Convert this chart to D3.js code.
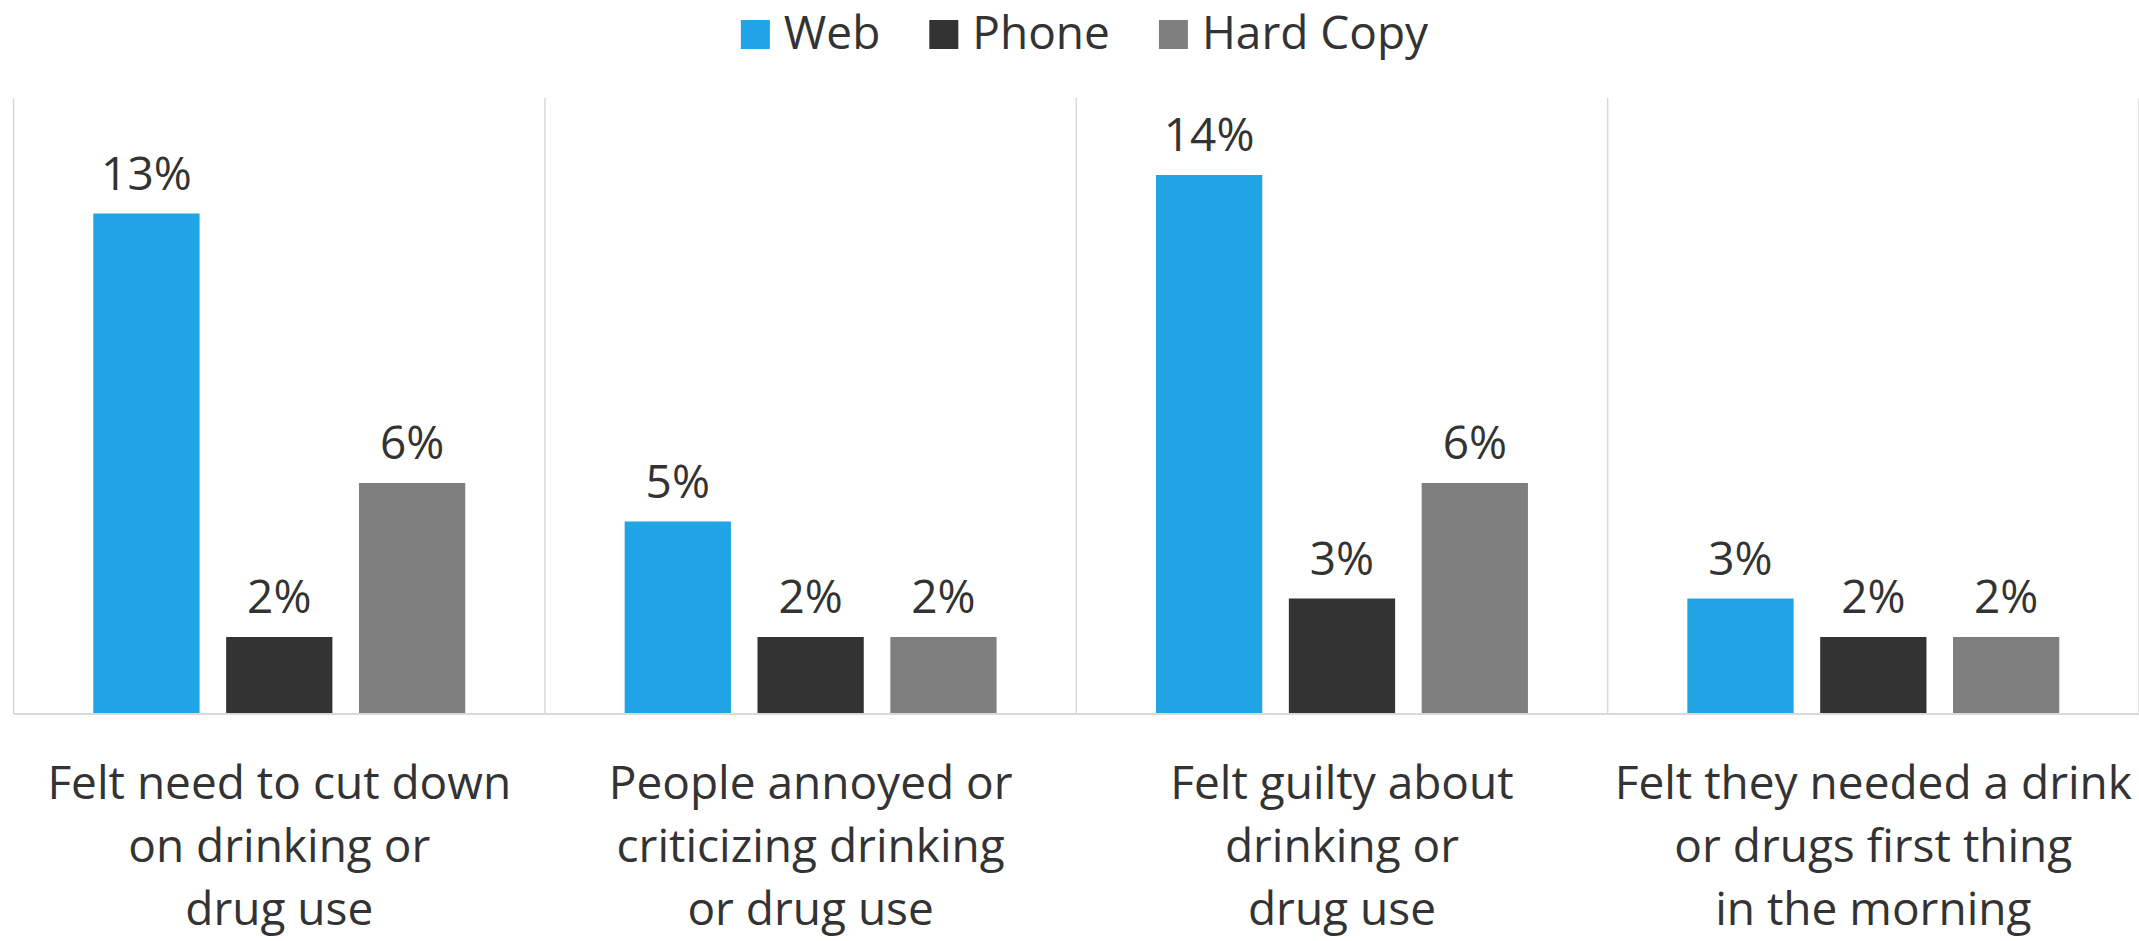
<!DOCTYPE html>
<html>
<head>
<meta charset="utf-8">
<script src="https://cdn.jsdelivr.net/npm/d3@7"></script>
<style>
  html, body { margin: 0; padding: 0; background: #fff; }
  svg { display: block; }
  text { font-family: "Open Sans", "Noto Sans", sans-serif; fill: #333333; }
</style>
</head>
<body>
<svg id="chart"></svg>
<script>
// Screening questions, one entry per category (label split into lines)
const categories = [
  "Felt need to cut down on drinking or drug use",
  "People annoyed or criticizing drinking or drug use",
  "Felt guilty about drinking or drug use",
  "Felt they needed a drink or drugs first thing in the morning"
];
const categoryLines = [
  ["Felt need to cut down", "on drinking or", "drug use"],
  ["People annoyed or", "criticizing drinking", "or drug use"],
  ["Felt guilty about", "drinking or", "drug use"],
  ["Felt they needed a drink", "or drugs first thing", "in the morning"]
];

// Survey mode series
const series = ["Web", "Phone", "Hard Copy"];
const webValues = [13, 5, 14, 3];
const phoneValues = [2, 2, 3, 2];
const hardCopyValues = [6, 2, 6, 2];
const seriesColors = ["#21A4E6", "#333333", "#7F7F7F"];

const valuesBySeries = [webValues, phoneValues, hardCopyValues];

const W = 2139, H = 941;
const svg = d3.select("#chart").attr("width", W).attr("height", H);

const plot = { left: 13.6, right: 2139, top: 98, bottom: 714 };
const fontSize = 46;

const x0 = d3.scaleBand().domain(categories).range([plot.left, plot.right]).padding(0);
const x1 = d3.scaleBand().domain(series).range([0, x0.bandwidth()])
  .paddingInner(0.2).paddingOuter(0.6);
const y = d3.scaleLinear().domain([0, 16]).range([plot.bottom, plot.top]);

// Vertical separators between categories
const bounds = categories.map(c => x0(c)).concat([plot.right]);
svg.append("g").selectAll("line").data(bounds).join("line")
  .attr("x1", d => d).attr("x2", d => d)
  .attr("y1", plot.top).attr("y2", plot.bottom)
  .attr("stroke", "#D9D9D9").attr("stroke-width", 1.5);

// Bars
const rows = categories.map((c, i) => ({
  category: c,
  items: series.map((s, j) => ({ series: s, value: valuesBySeries[j][i], color: seriesColors[j] }))
}));

const groups = svg.append("g").selectAll("g").data(rows).join("g")
  .attr("transform", d => `translate(${x0(d.category)},0)`);

groups.selectAll("rect").data(d => d.items).join("rect")
  .attr("x", d => x1(d.series))
  .attr("y", d => y(d.value))
  .attr("width", x1.bandwidth())
  .attr("height", d => y(0) - y(d.value))
  .attr("fill", d => d.color);

// Value labels
groups.selectAll("text.val").data(d => d.items).join("text")
  .attr("class", "val")
  .attr("x", d => x1(d.series) + x1.bandwidth() / 2)
  .attr("y", d => y(d.value) - 24)
  .attr("text-anchor", "middle")
  .style("font-size", fontSize + "px")
  .text(d => d.value + "%");

// Baseline
svg.append("line")
  .attr("x1", plot.left).attr("x2", plot.right)
  .attr("y1", y(0)).attr("y2", y(0))
  .attr("stroke", "#D9D9D9").attr("stroke-width", 2);

// Category labels
const xAxis = svg.append("g");
const labelTop = 799, lineStep = 63;
categories.forEach((c, i) => {
  const cx = x0(c) + x0.bandwidth() / 2;
  const t = xAxis.append("text")
    .attr("x", cx)
    .attr("y", labelTop)
    .attr("text-anchor", "middle")
    .style("font-size", fontSize + "px");
  categoryLines[i].forEach((line, k) => {
    t.append("tspan")
      .attr("x", cx)
      .attr("y", labelTop + k * lineStep)
      .text(line);
  });
});

// Legend
const legend = svg.append("g");
const sw = 29, gapText = 14, gapItem = 49, legendBase = 49;
let cursor = 0;
series.forEach((s, j) => {
  const g = legend.append("g");
  g.append("rect").attr("x", 0).attr("y", legendBase - sw).attr("width", sw).attr("height", sw)
    .attr("fill", seriesColors[j]);
  const t = g.append("text").attr("x", sw + gapText).attr("y", legendBase)
    .style("font-size", fontSize + "px").text(s);
  const w = sw + gapText + t.node().getComputedTextLength();
  g.attr("transform", `translate(${cursor},0)`);
  cursor += w + gapItem;
});
const legendWidth = cursor - gapItem;
legend.attr("transform", `translate(${1084.5 - legendWidth / 2},0)`);
</script>
</body>
</html>
